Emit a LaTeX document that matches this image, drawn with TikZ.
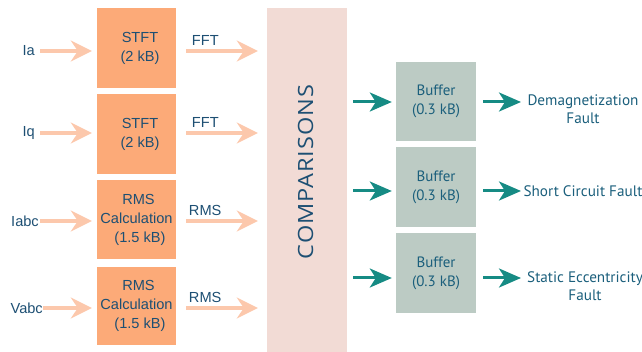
\documentclass[tikz,border=0pt]{standalone}
\usepackage{fontspec}
\usepackage{graphicx}
\setmainfont{Liberation Sans}
\newfontfamily\rfont{PT Sans}
\newfontfamily\cfont[LetterSpace=4]{Open Sans}
\usetikzlibrary{arrows.meta}
\definecolor{boxor}{HTML}{FCAA78}
\definecolor{peach}{HTML}{FCC8AC}
\definecolor{cmpbg}{HTML}{F2DBD5}
\definecolor{bufbg}{HTML}{BCCBC4}
\definecolor{tealar}{HTML}{168B84}
\definecolor{ltxt}{HTML}{1D4F73}
\definecolor{rtxt}{HTML}{1B5F7C}
\tikzset{
  procbox/.style={fill=boxor, draw=none, minimum width=79pt, minimum height=80pt, inner sep=0pt, align=center, text=ltxt, font=\fontsize{14.6}{19}\selectfont},
  bufbox/.style={fill=bufbg, draw=none, minimum width=80pt, minimum height=79pt, inner sep=0pt, align=center, text=rtxt, font=\rfont\fontsize{15}{19}\selectfont},
  inlbl/.style={text=ltxt, inner sep=0pt, font=\fontsize{14.6}{17}\selectfont},
  outlbl/.style={text=rtxt, inner sep=0pt, align=center, font=\rfont\fontsize{15.2}{18}\selectfont},
  peacharrow/.style={draw=peach, line width=3.2pt, -{Stealth[length=21pt, width=21pt, inset=7pt]}},
  tealarrow/.style={draw=tealar, line width=3pt, -{Stealth[length=22pt, width=19pt, inset=6pt]}},
  arrlbl/.style={text=ltxt, inner sep=0pt, font=\fontsize{14.6}{17}\selectfont}
}
\begin{document}
\begin{tikzpicture}[x=1pt, y=-1pt]
\useasboundingbox (0,0) rectangle (642,352);
% comparisons column
\node[fill=cmpbg, minimum width=80pt, minimum height=344pt, inner sep=0pt] (cmp) at (307,180) {};
\node[rotate=90, text=ltxt, inner sep=0pt, font=\cfont\fontsize{21}{21}\selectfont] (cmptxt) at (305.5,172) {\scalebox{1.12}[1]{COMPARISONS}};
% processing boxes
\node[procbox] (b1) at (136.5,48) {\hspace*{7pt}STFT\\\hspace*{7pt}(2 kB)};
\node[procbox] (b2) at (136.5,134) {\hspace*{7pt}STFT\\\hspace*{7pt}(2 kB)};
\node[procbox, minimum height=79pt] (b3) at (136.5,219.5) {\hspace*{4pt}RMS\\Calculation\\\hspace*{7pt}(1.5 kB)};
\node[procbox, minimum height=78pt] (b4) at (136.5,306) {\hspace*{4pt}RMS\\Calculation\\\hspace*{7pt}(1.5 kB)};
% input labels
\node[inlbl, anchor=east] (ia) at (35,51) {Ia};
\node[inlbl, anchor=east] (iq) at (35,133) {Iq};
\node[inlbl, anchor=east] (iabc) at (39,221) {Iabc};
\node[inlbl, anchor=east] (vabc) at (43,308) {Vabc};
% input arrows
\draw[peacharrow] ([xshift=5pt]ia.east) -- ([xshift=-5pt]ia.east -| b1.west);
\draw[peacharrow] ([xshift=5pt]iq.east) -- ([xshift=-5pt]iq.east -| b2.west);
\draw[peacharrow] ([xshift=1pt]iabc.east) -- ([xshift=-5pt]iabc.east -| b3.west);
\draw[peacharrow] (vabc.east) -- ([xshift=-5pt]vabc.east -| b4.west);
% output arrows
\coordinate (o1) at (186,51);
\coordinate (o2) at (186,133);
\coordinate (o3) at (186,221);
\coordinate (o4) at (186,308);
\draw[peacharrow] (o1) -- ([xshift=-9pt]o1 -| cmp.west) node[arrlbl, pos=0.2, above=4pt, anchor=south west, xshift=-10pt] {FFT};
\draw[peacharrow] (o2) -- ([xshift=-9pt]o2 -| cmp.west) node[arrlbl, pos=0.2, above=4pt, anchor=south west, xshift=-10pt] {FFT};
\draw[peacharrow] (o3) -- ([xshift=-9pt]o3 -| cmp.west) node[arrlbl, pos=0.2, above=4pt, anchor=south west, xshift=-13pt] {RMS};
\draw[peacharrow] (o4) -- ([xshift=-9pt]o4 -| cmp.west) node[arrlbl, pos=0.2, above=4pt, anchor=south west, xshift=-13pt] {RMS};
% buffers
\node[bufbox] (u1) at (436,101.5) {Buffer\\(0.3 kB)};
\node[bufbox, minimum height=80pt] (u2) at (436,187) {Buffer\\(0.3 kB)};
\node[bufbox, minimum height=80pt] (u3) at (436,273) {Buffer\\(0.3 kB)};
% fault labels
\node[outlbl] (f1) at (583,109) {Demagnetization\\Fault};
\node[outlbl] (f2) at (583,191) {Short Circuit Fault};
\node[outlbl] (f3) at (585,286) {Static Eccentricity\\Fault};
% teal arrows
\coordinate (t1) at (353,102);
\coordinate (t2) at (353,191);
\coordinate (t3) at (353,278);
\draw[tealarrow] (t1) -- ([xshift=-4pt]t1 -| u1.west);
\draw[tealarrow] (t2) -- ([xshift=-4pt]t2 -| u2.west);
\draw[tealarrow] (t3) -- ([xshift=-4pt]t3 -| u3.west);
\draw[tealarrow] ([xshift=7pt]t1 -| u1.east) -- (521,102);
\draw[tealarrow] ([xshift=7pt]t2 -| u2.east) -- (521,191);
\draw[tealarrow] ([xshift=7pt]t3 -| u3.east) -- (521,278);
\end{tikzpicture}
\end{document}
